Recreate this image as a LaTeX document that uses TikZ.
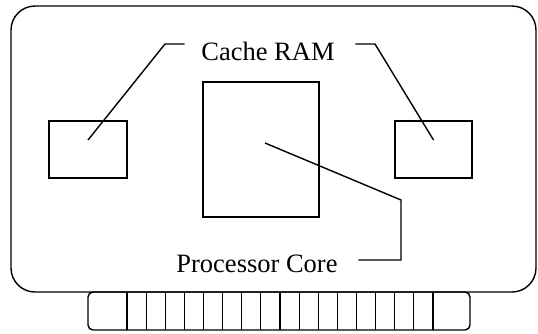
\documentclass[tikz,border=0pt]{standalone}
\usepackage{fontspec}
\setmainfont{Liberation Serif}
\begin{document}
\begin{tikzpicture}[x=1pt,y=-1pt,line width=1.4pt,
    chip/.style={draw,line width=1.4pt,inner sep=0pt},
    label/.style={font=\fontsize{26.5}{30}\selectfont,inner sep=0pt}]
    \useasboundingbox (0,0) rectangle (538,333);

    % Board
    \draw[rounded corners=24pt] (11,6) rectangle (536,292);

    % Edge connector
    \draw[rounded corners=5pt] (88,292) rectangle (470,330);
    \foreach \k in {0,1,...,16} {
        \draw[line width=1.1pt] ({127+19.125*\k},292) -- ({127+19.125*\k},330);
    }

    % Chips
    \node[chip, minimum width=78pt, minimum height=57pt] (lcache) at (88,149.5) {};
    \node[chip, minimum width=77pt, minimum height=57pt] (rcache) at (433.5,149.5) {};
    \node[chip, minimum width=116pt, minimum height=135pt] (core) at (261,149.5) {};

    % Labels
    \node[label, anchor=base] (cachelbl) at (268,60) {Cache RAM};
    \node[label, anchor=base] (corelbl) at (257,272) {Processor Core};

    % Leaders
    \coordinate (lend) at ([yshift=9.5pt]lcache.center);
    \coordinate (rend) at ([yshift=9.5pt]rcache.center);
    \coordinate (cend) at ([xshift=4pt,yshift=6.5pt]core.center);
    \draw (lend) -- (165,44) -- ([xshift=-16pt]cachelbl.west |- 0,44);
    \draw ([xshift=20pt]cachelbl.east |- 0,44) -- (375,44) -- (rend);
    \draw (cend) -- (401,200) -- (401,260) -- ([xshift=20pt]corelbl.east |- 0,260);
\end{tikzpicture}
\end{document}
